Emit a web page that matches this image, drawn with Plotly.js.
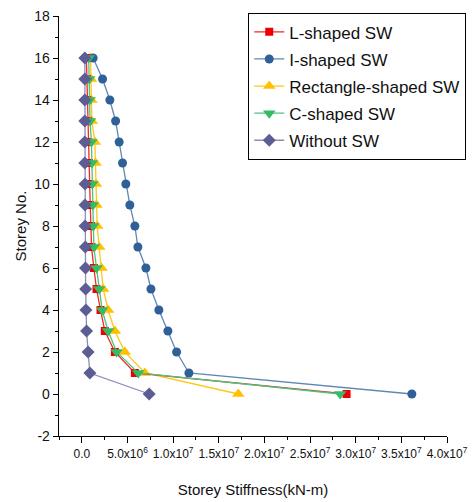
<!DOCTYPE html>
<html><head><meta charset="utf-8">
<script src="https://cdn.plot.ly/plotly-3.0.1.min.js"></script>
<style>html,body{margin:0;padding:0;background:#fff}#chart{width:473px;height:502px}</style>
</head><body><div id="chart"></div>
<script>
const storeys = [16,15,14,13,12,11,10,9,8,7,6,5,4,3,2,1,0];
const lShaped = [0.50e6,0.55e6,0.60e6,0.65e6,0.72e6,0.78e6,0.85e6,0.92e6,1.00e6,1.06e6,1.32e6,1.61e6,2.05e6,2.52e6,3.62e6,5.81e6,2.90e7];
const iShaped = [1.24e6,2.27e6,3.07e6,3.70e6,4.09e6,4.46e6,4.82e6,5.26e6,5.81e6,6.14e6,7.02e6,7.57e6,8.44e6,9.43e6,1.038e7,1.173e7,3.615e7];
const rectShaped = [0.95e6,1.00e6,1.05e6,1.10e6,1.43e6,1.50e6,1.55e6,1.60e6,1.68e6,1.90e6,2.16e6,2.34e6,2.88e6,3.62e6,4.71e6,6.91e6,1.714e7];
const cShaped = [0.75e6,0.80e6,0.85e6,0.90e6,1.05e6,1.10e6,1.15e6,1.20e6,1.24e6,1.32e6,1.61e6,1.90e6,2.23e6,2.88e6,3.81e6,6.18e6,2.83e7];
const withoutSW = [0.33e6,0.33e6,0.33e6,0.33e6,0.33e6,0.33e6,0.35e6,0.35e6,0.35e6,0.38e6,0.40e6,0.42e6,0.45e6,0.52e6,0.69e6,0.88e6,7.38e6];
const xTickVals = [0,5e6,1e7,1.5e7,2e7,2.5e7,3e7,3.5e7,4e7];
const xTickText = ['0.0','5.0x10<sup>6</sup>','1.0x10<sup>7</sup>','1.5x10<sup>7</sup>','2.0x10<sup>7</sup>','2.5x10<sup>7</sup>','3.0x10<sup>7</sup>','3.5x10<sup>7</sup>','4.0x10<sup>7</sup>'];
const yTickVals = [-2,0,2,4,6,8,10,12,14,16,18];
const yTickText = ['-2','0','2','4','6','8','10','12','14','16','18'];

const FONT = '"Liberation Sans", Arial, sans-serif';
function tr(name, xs, lineColor, markColor, symbol, size, rank){
  return {type:'scatter', mode:'lines+markers', name:name, x:xs, y:storeys,
    legendrank:rank, legendgroup:'g'+rank,
    line:{color:lineColor, width:1.3},
    marker:{color:markColor, symbol:symbol, size:size, line:{width:0}}};
}
const data = [
  tr('Rectangle-shaped SW', rectShaped, '#ffc61a', '#ffc000', 'triangle-up', 11, 3),
  tr('L-shaped SW', lShaped, '#ee2a2a', '#ee0000', 'square', 8, 1),
  tr('I-shaped SW', iShaped, '#5f87b5', '#2f6098', 'circle', 9, 2),
  tr('C-shaped SW', cShaped, '#4cc47a', '#33bb66', 'triangle-down', 11, 4),
  tr('Without SW', withoutSW, '#8d8db8', '#5d5d96', 'diamond', 10, 5)
];
const layout = {
  width:473, height:502,
  margin:{l:59, r:26, t:16, b:66, autoexpand:false},
  paper_bgcolor:'#fff', plot_bgcolor:'#fff',
  font:{family:FONT, color:'#111', size:14},
  showlegend:true,
  legend:{x:0.487, y:1.0071, xanchor:'left', yanchor:'top',
    bordercolor:'#000', borderwidth:1.3,
    bgcolor:'#fff', font:{family:FONT, size:17, color:'#111'}, tracegroupgap:2, itemwidth:30},
  xaxis:{range:[-2.5e6,4.0e7], showgrid:false, zeroline:false, showline:true, linecolor:'#000', linewidth:1.3,
    ticks:'outside', ticklen:6, tickcolor:'#000', tickwidth:1, tickangle:0,
    tickmode:'array', tickvals:xTickVals, ticktext:xTickText,
    minor:{dtick:2.5e6, tick0:0, ticks:'outside', ticklen:3, tickcolor:'#000', showgrid:false},
    tickfont:{family:FONT, size:12, color:'#111'},
    title:{text:'Storey Stiffness(kN-m)', font:{family:FONT, size:15, color:'#111'}, standoff:24},
    automargin:false},
  yaxis:{range:[-2,18], showgrid:false, zeroline:false, showline:true, linecolor:'#000', linewidth:1.3,
    ticks:'outside', ticklen:5, tickcolor:'#000', tickwidth:1,
    tickmode:'array', tickvals:yTickVals, ticktext:yTickText,
    minor:{dtick:1, tick0:0, ticks:'outside', ticklen:3, tickcolor:'#000', showgrid:false},
    tickfont:{family:FONT, size:14, color:'#111'},
    title:{text:'Storey No.', font:{family:FONT, size:15, color:'#111'}, standoff:4},
    automargin:false}
};
Plotly.newPlot('chart', data, layout, {displayModeBar:false, staticPlot:true});
</script></body></html>
